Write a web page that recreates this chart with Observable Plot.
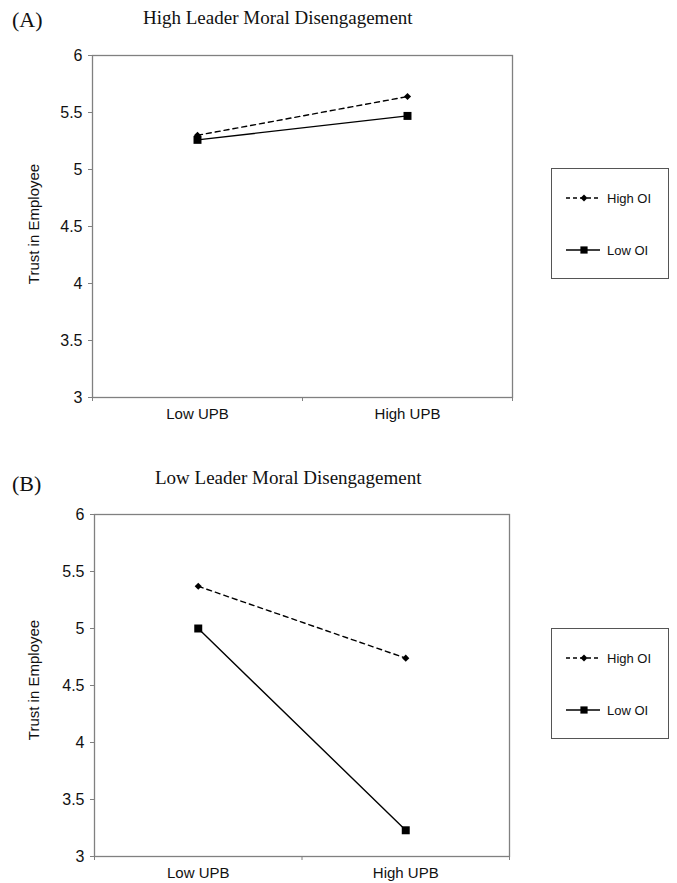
<!DOCTYPE html>
<html>
<head>
<meta charset="utf-8">
<script src="https://cdn.jsdelivr.net/npm/d3@7"></script>
<script src="https://cdn.jsdelivr.net/npm/@observablehq/plot@0.6"></script>
<style>
  html, body { margin: 0; padding: 0; background: #fff; }
  #root { position: relative; width: 677px; height: 883px; overflow: hidden; font-family: "Liberation Sans", Arial, sans-serif; }
  .abs { position: absolute; }
  .panelTag { font-family: "Liberation Serif", "Times New Roman", serif; font-size: 22px; color: #111; line-height: 1; }
  .panelTitle { font-family: "Liberation Serif", "Times New Roman", serif; font-size: 19px; color: #111; line-height: 1; white-space: nowrap; }
  .ylab { font-size: 15px; color: #111; white-space: nowrap; transform: translate(-50%, -50%) rotate(-90deg); line-height: 1; }
</style>
</head>
<body>
<div id="root"></div>
<script>
// ---- data ----
const categories = ["Low UPB", "High UPB"];
const seriesNames = ["High OI", "Low OI"];
const yTicks = [3, 3.5, 4, 4.5, 5, 5.5, 6];
const panelTags = ["(A)", "(B)"];
const panelTitles = ["High Leader Moral Disengagement", "Low Leader Moral Disengagement"];
const yLabel = "Trust in Employee";
const panelA_highOI = [5.30, 5.64];
const panelA_lowOI = [5.26, 5.47];
const panelB_highOI = [5.37, 4.74];
const panelB_lowOI = [5.00, 3.23];

function rows(high, low) {
  const out = [];
  categories.forEach((c, i) => {
    out.push({cat: c, series: seriesNames[0], value: high[i]});
    out.push({cat: c, series: seriesNames[1], value: low[i]});
  });
  return out;
}

const root = document.getElementById("root");

function makePanel(data, opts) {
  const xPos = d => categories.indexOf(d.cat) + 0.5;
  const high = data.filter(d => d.series === seriesNames[0]);
  const low = data.filter(d => d.series === seriesNames[1]);
  const chart = Plot.plot({
    width: 540,
    height: 430,
    marginLeft: opts.ml,
    marginRight: opts.mr,
    marginTop: 55,
    marginBottom: 33,
    style: {fontFamily: '"Liberation Sans", Arial, sans-serif', fontSize: "15px", background: "transparent", overflow: "visible"},
    x: {domain: [0, 2], axis: null},
    y: {domain: [3, 6], axis: null},
    marks: [
      Plot.axisX([0, 1, 2], {tickSize: 4, tickFormat: () => "", stroke: "#808080", label: null}),
      Plot.axisX([0.5, 1.5], {tickSize: 0, tickPadding: 11, tickFormat: i => categories[Math.floor(i)], fontSize: 15, fill: "#111", label: null}),
      Plot.axisY(yTicks, {tickSize: 4, tickPadding: 6, tickFormat: d => String(d), fontSize: 16, fill: "#111", stroke: "#808080", label: null}),
      Plot.frame({stroke: "#808080", strokeWidth: 1.3}),
      Plot.line(high, {x: xPos, y: "value", stroke: "#000", strokeWidth: 1.4, strokeDasharray: "5,4"}),
      Plot.line(low, {x: xPos, y: "value", stroke: "#000", strokeWidth: 1.4}),
      Plot.dot(high, {x: xPos, y: "value", symbol: "diamond2", r: 3.2, fill: "#000", stroke: "none"}),
      Plot.dot(low, {x: xPos, y: "value", symbol: "square", r: 4.5, fill: "#000", stroke: "none"})
    ]
  });
  chart.style.position = "absolute";
  chart.style.left = "0px";
  chart.style.top = opts.top + "px";
  root.appendChild(chart);

  const tag = document.createElement("div");
  tag.className = "abs panelTag";
  tag.textContent = opts.tag;
  tag.style.left = "12px";
  tag.style.top = opts.tagTop + "px";
  root.appendChild(tag);

  const title = document.createElement("div");
  title.className = "abs panelTitle";
  title.textContent = opts.title;
  title.style.left = opts.titleLeft + "px";
  title.style.top = opts.titleTop + "px";
  root.appendChild(title);

  const yl = document.createElement("div");
  yl.className = "abs ylab";
  yl.textContent = yLabel;
  yl.style.left = "33px";
  yl.style.top = opts.ylabY + "px";
  root.appendChild(yl);

  // legend
  const lg = d3.create("svg").attr("width", 118).attr("height", 111)
    .style("position", "absolute").style("left", "551px").style("top", opts.legTop + "px");
  lg.append("rect").attr("x", 0.5).attr("y", 0.5).attr("width", 117).attr("height", 110)
    .attr("fill", "#fff").attr("stroke", "#555").attr("stroke-width", 1);
  const entries = [
    {name: seriesNames[0], y: 30, dash: "4,3", sym: d3.symbolDiamond2, size: 31},
    {name: seriesNames[1], y: 82, dash: null, sym: d3.symbolSquare, size: 52}
  ];
  entries.forEach(e => {
    lg.append("line").attr("x1", 15).attr("x2", 49).attr("y1", e.y).attr("y2", e.y)
      .attr("stroke", "#000").attr("stroke-width", 1.3).attr("stroke-dasharray", e.dash);
    lg.append("path").attr("d", d3.symbol(e.sym, e.size)()).attr("transform", `translate(33,${e.y})`).attr("fill", "#000");
    lg.append("text").attr("x", 56).attr("y", e.y).attr("dy", "0.35em").attr("font-size", 13)
      .attr("font-family", '"Liberation Sans", Arial, sans-serif').attr("fill", "#111").text(e.name);
  });
  root.appendChild(lg.node());
}

makePanel(rows(panelA_highOI, panelA_lowOI), {top: 0, ml: 92, mr: 28, tag: panelTags[0], tagTop: 9, title: panelTitles[0], titleLeft: 143, titleTop: 8, ylabY: 224, legTop: 168});
makePanel(rows(panelB_highOI, panelB_lowOI), {top: 459, ml: 94, mr: 31, tag: panelTags[1], tagTop: 473, title: panelTitles[1], titleLeft: 155, titleTop: 468, ylabY: 680, legTop: 628});
</script>
</body>
</html>
